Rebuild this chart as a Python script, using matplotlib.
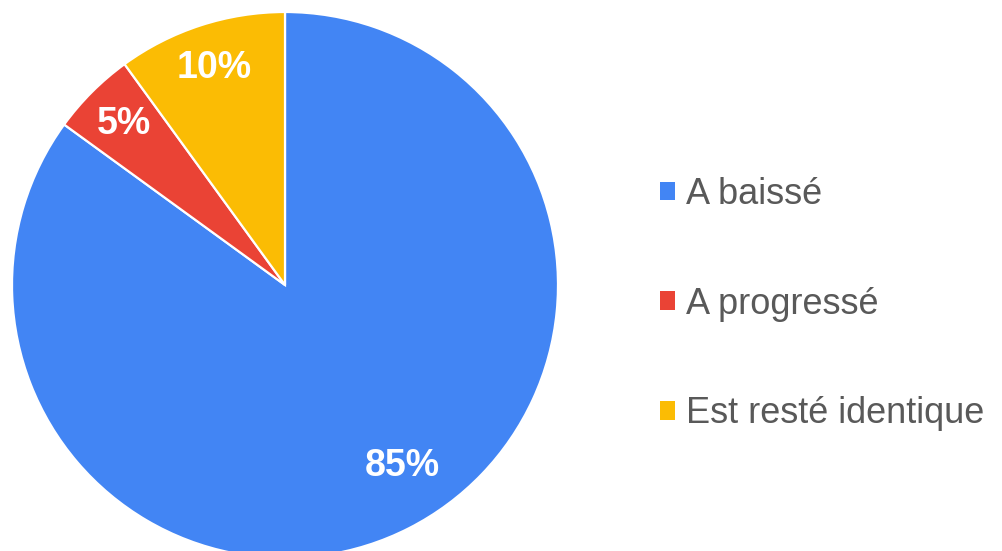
import numpy as np
import matplotlib
matplotlib.use("Agg")
import matplotlib.pyplot as plt
from matplotlib.patches import Patch

plt.rcParams['font.family'] = ['Liberation Sans', 'DejaVu Sans']

# data
labels = ["A baissé", "A progressé", "Est resté identique"]
values = [85, 5, 10]
colors = ["#4285F4", "#EA4335", "#FBBC04"]

fig = plt.figure(figsize=(10.02, 5.51), dpi=100)
ax = fig.add_axes([0, 0, 1, 1])
ax.set_xlim(0, 1002)
ax.set_ylim(0, 551)
ax.set_aspect("equal")
ax.axis("off")

cx, cy, r = 285, 266, 273
wedges, texts, autotexts = ax.pie(
    values, colors=colors, startangle=90, counterclock=False,
    center=(cx, cy), radius=r, autopct="%d%%", pctdistance=0.83,
    wedgeprops=dict(edgecolor="white", linewidth=1.6),
    textprops=dict(color="white", fontsize=27, fontweight="bold"))
ax.set_xlim(0, 1002)
ax.set_ylim(0, 551)

# big slice label sits a bit closer to the centre and off the bisector
dist = [0.79, 0.835, 0.835]
shift = [6, 0, 0]
for w, t, d, s in zip(wedges, autotexts, dist, shift):
    ang = np.deg2rad((w.theta1 + w.theta2) / 2 + s)
    t.set_position((cx + d * r * np.cos(ang), cy + d * r * np.sin(ang)))

handles = [Patch(facecolor=c, edgecolor="none") for c in colors]
fig.legend(handles, labels, loc="center left", bbox_to_anchor=(660 / 1002, 1 - 304 / 551),
           frameon=False, fontsize=26, labelcolor="#595959",
           handlelength=0.42, handleheight=0.42, handletextpad=0.3,
           labelspacing=2.07, borderpad=0, borderaxespad=0)

fig.savefig("out.png", dpi=100)
